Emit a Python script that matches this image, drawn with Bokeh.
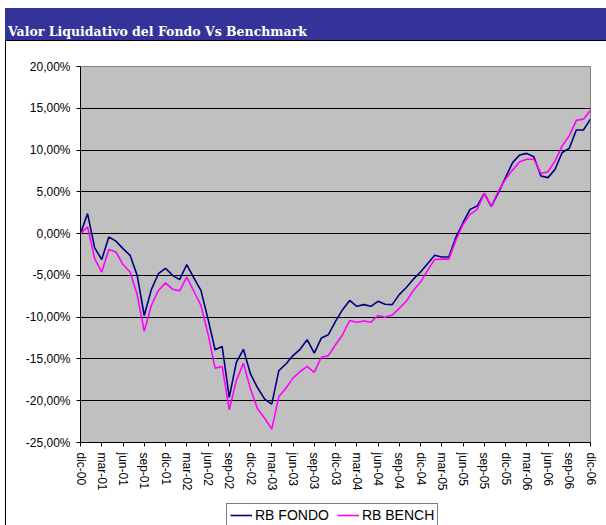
from bokeh.plotting import figure
from bokeh.models import Range1d, FixedTicker, Legend, LegendItem, Div
from bokeh.layouts import column
from bokeh.embed import file_html
from bokeh.resources import INLINE

title_text = "Valor Liquidativo del Fondo Vs Benchmark"

# monthly values, dic-00 .. dic-06 (percent)
rb_fondo = [0.0, 2.4, -1.7, -3.1, -0.4, -0.9, -1.8, -2.6, -5.0, -9.8,
            -6.7, -4.8, -4.15, -5.0, -5.5, -3.7, -5.3, -6.8, -10.2, -13.9,
            -13.5, -19.6, -15.4, -13.85, -16.8, -18.45, -19.8, -20.4, -16.4, -15.6,
            -14.6, -13.85, -12.7, -14.3, -12.5, -12.1, -10.5, -9.1, -8.0, -8.7,
            -8.5, -8.7, -8.1, -8.45, -8.5, -7.3, -6.45, -5.45, -4.6, -3.6,
            -2.6, -2.8, -2.8, -0.45, 1.3, 2.9, 3.3, 4.8, 3.25, 4.9,
            6.7, 8.5, 9.4, 9.6, 9.2, 6.9, 6.7, 7.7, 9.7, 10.2,
            12.4, 12.4, 13.7]
rb_bench = [0.0, 0.8, -3.0, -4.6, -1.9, -2.2, -3.7, -4.6, -7.3, -11.7,
            -8.6, -6.8, -5.9, -6.65, -6.85, -5.2, -6.9, -8.6, -12.0, -16.1,
            -15.9, -21.1, -17.6, -15.5, -18.6, -21.0, -22.1, -23.4, -19.5, -18.5,
            -17.3, -16.5, -15.9, -16.6, -14.8, -14.6, -13.3, -12.1, -10.4, -10.6,
            -10.45, -10.6, -9.8, -10.0, -9.75, -8.95, -8.1, -6.8, -5.8, -4.4,
            -3.1, -3.05, -3.05, -0.8, 1.1, 2.3, 2.9, 4.8, 3.3, 5.1,
            6.5, 7.6, 8.6, 8.9, 8.9, 7.2, 7.4, 8.7, 10.5, 11.7,
            13.55, 13.7, 14.75]

x_tick_labels = ["dic-00", "mar-01", "jun-01", "sep-01", "dic-01", "mar-02", "jun-02",
                 "sep-02", "dic-02", "mar-03", "jun-03", "sep-03", "dic-03", "mar-04",
                 "jun-04", "sep-04", "dic-04", "mar-05", "jun-05", "sep-05", "dic-05",
                 "mar-06", "jun-06", "sep-06", "dic-06"]
y_ticks = [20, 15, 10, 5, 0, -5, -10, -15, -20, -25]
y_tick_labels = ["20,00%", "15,00%", "10,00%", "5,00%", "0,00%", "-5,00%",
                 "-10,00%", "-15,00%", "-20,00%", "-25,00%"]
series_names = ["RB FONDO", "RB BENCH"]
series_colors = ["#000080", "#FF00FF"]

x = list(range(len(rb_fondo)))
x_ticks = [3 * i for i in range(len(x_tick_labels))]

W = 606

# ---- title bar ----
title_div = Div(
    text=('<div style="font-family:\'DejaVu Serif\';font-weight:bold;font-size:12.5px;'
          'color:#ffffff;padding:24px 0 0 8px;white-space:nowrap;line-height:15px;margin:0;">'
          + title_text + '</div>'),
    width=W, height=40, margin=(0, 0, 0, 0),
    styles={"background": "linear-gradient(#333399,#333399) 5px 8px/601px 32px no-repeat, #ffffff",
            "overflow": "hidden"},
)

# ---- main chart ----
p = figure(width=W, height=460,
           x_range=Range1d(0, len(rb_fondo) - 1), y_range=Range1d(-25, 20),
           output_backend="svg", toolbar_location=None,
           min_border_left=80, min_border_right=16, min_border_top=26, min_border_bottom=58,
           styles={"background": "linear-gradient(#000000,#000000) 5px 0/601px 1px no-repeat, "
                                 "linear-gradient(#000000,#000000) 5px 0/1px 100% no-repeat, #ffffff"})

p.background_fill_color = "#C0C0C0"
p.border_fill_alpha = 0
p.outline_line_color = "#808080"
p.outline_line_width = 1

p.xgrid.grid_line_color = None
p.ygrid.ticker = FixedTicker(ticks=y_ticks)
p.ygrid.grid_line_color = "#000000"
p.ygrid.grid_line_width = 1

p.yaxis.ticker = FixedTicker(ticks=y_ticks)
p.yaxis.major_label_overrides = dict(zip(y_ticks, y_tick_labels))
p.xaxis.ticker = FixedTicker(ticks=x_ticks)
p.xaxis.major_label_overrides = dict(zip(x_ticks, x_tick_labels))
p.xaxis.major_label_orientation = "vertical"

for ax in (p.xaxis[0], p.yaxis[0]):
    ax.axis_line_color = "#000000"
    ax.axis_line_width = 1
    ax.major_tick_line_color = "#000000"
    ax.major_tick_out = 4
    ax.major_tick_in = 0
    ax.minor_tick_line_color = None
    ax.major_label_text_font = "Liberation Sans"
    ax.major_label_text_font_size = "12px"
    ax.major_label_text_color = "#000000"
    ax.major_label_standoff = 6

p.line(x, rb_fondo, line_color=series_colors[0], line_width=1.6)
p.line(x, rb_bench, line_color=series_colors[1], line_width=1.6)

# ---- legend strip (its frame is aligned with the chart frame by the column) ----
pl = figure(width=W, height=25, x_range=Range1d(-3, -2), y_range=Range1d(0, 1),
            output_backend="svg", toolbar_location=None,
            x_axis_location=None, y_axis_location=None,
            min_border_left=80, min_border_right=16, min_border_top=0, min_border_bottom=0,
            styles={"background": "linear-gradient(#000000,#000000) 5px 0/1px 100% no-repeat, #ffffff"})
pl.grid.visible = False
pl.outline_line_color = None
pl.background_fill_alpha = 0
pl.border_fill_alpha = 0
# same series, outside this strip's visible range: only their legend swatches show
lr1 = pl.line(x, rb_fondo, line_color=series_colors[0], line_width=1.6)
lr2 = pl.line(x, rb_bench, line_color=series_colors[1], line_width=1.6)
legend = Legend(items=[LegendItem(label=series_names[0], renderers=[lr1]),
                       LegendItem(label=series_names[1], renderers=[lr2])],
                orientation="horizontal", location=(146, -2),
                label_text_font="Liberation Sans", label_text_font_size="14px",
                label_text_color="#000000",
                glyph_width=22, glyph_height=12, label_standoff=3, spacing=8,
                padding=3, margin=0,
                border_line_color="#000000", border_line_width=1,
                background_fill_color="#FFFFFF", background_fill_alpha=1)
pl.add_layout(legend)

layout = column(title_div, p, pl, spacing=0)

with open("out.html", "w") as f:
    f.write(file_html(layout, INLINE))
